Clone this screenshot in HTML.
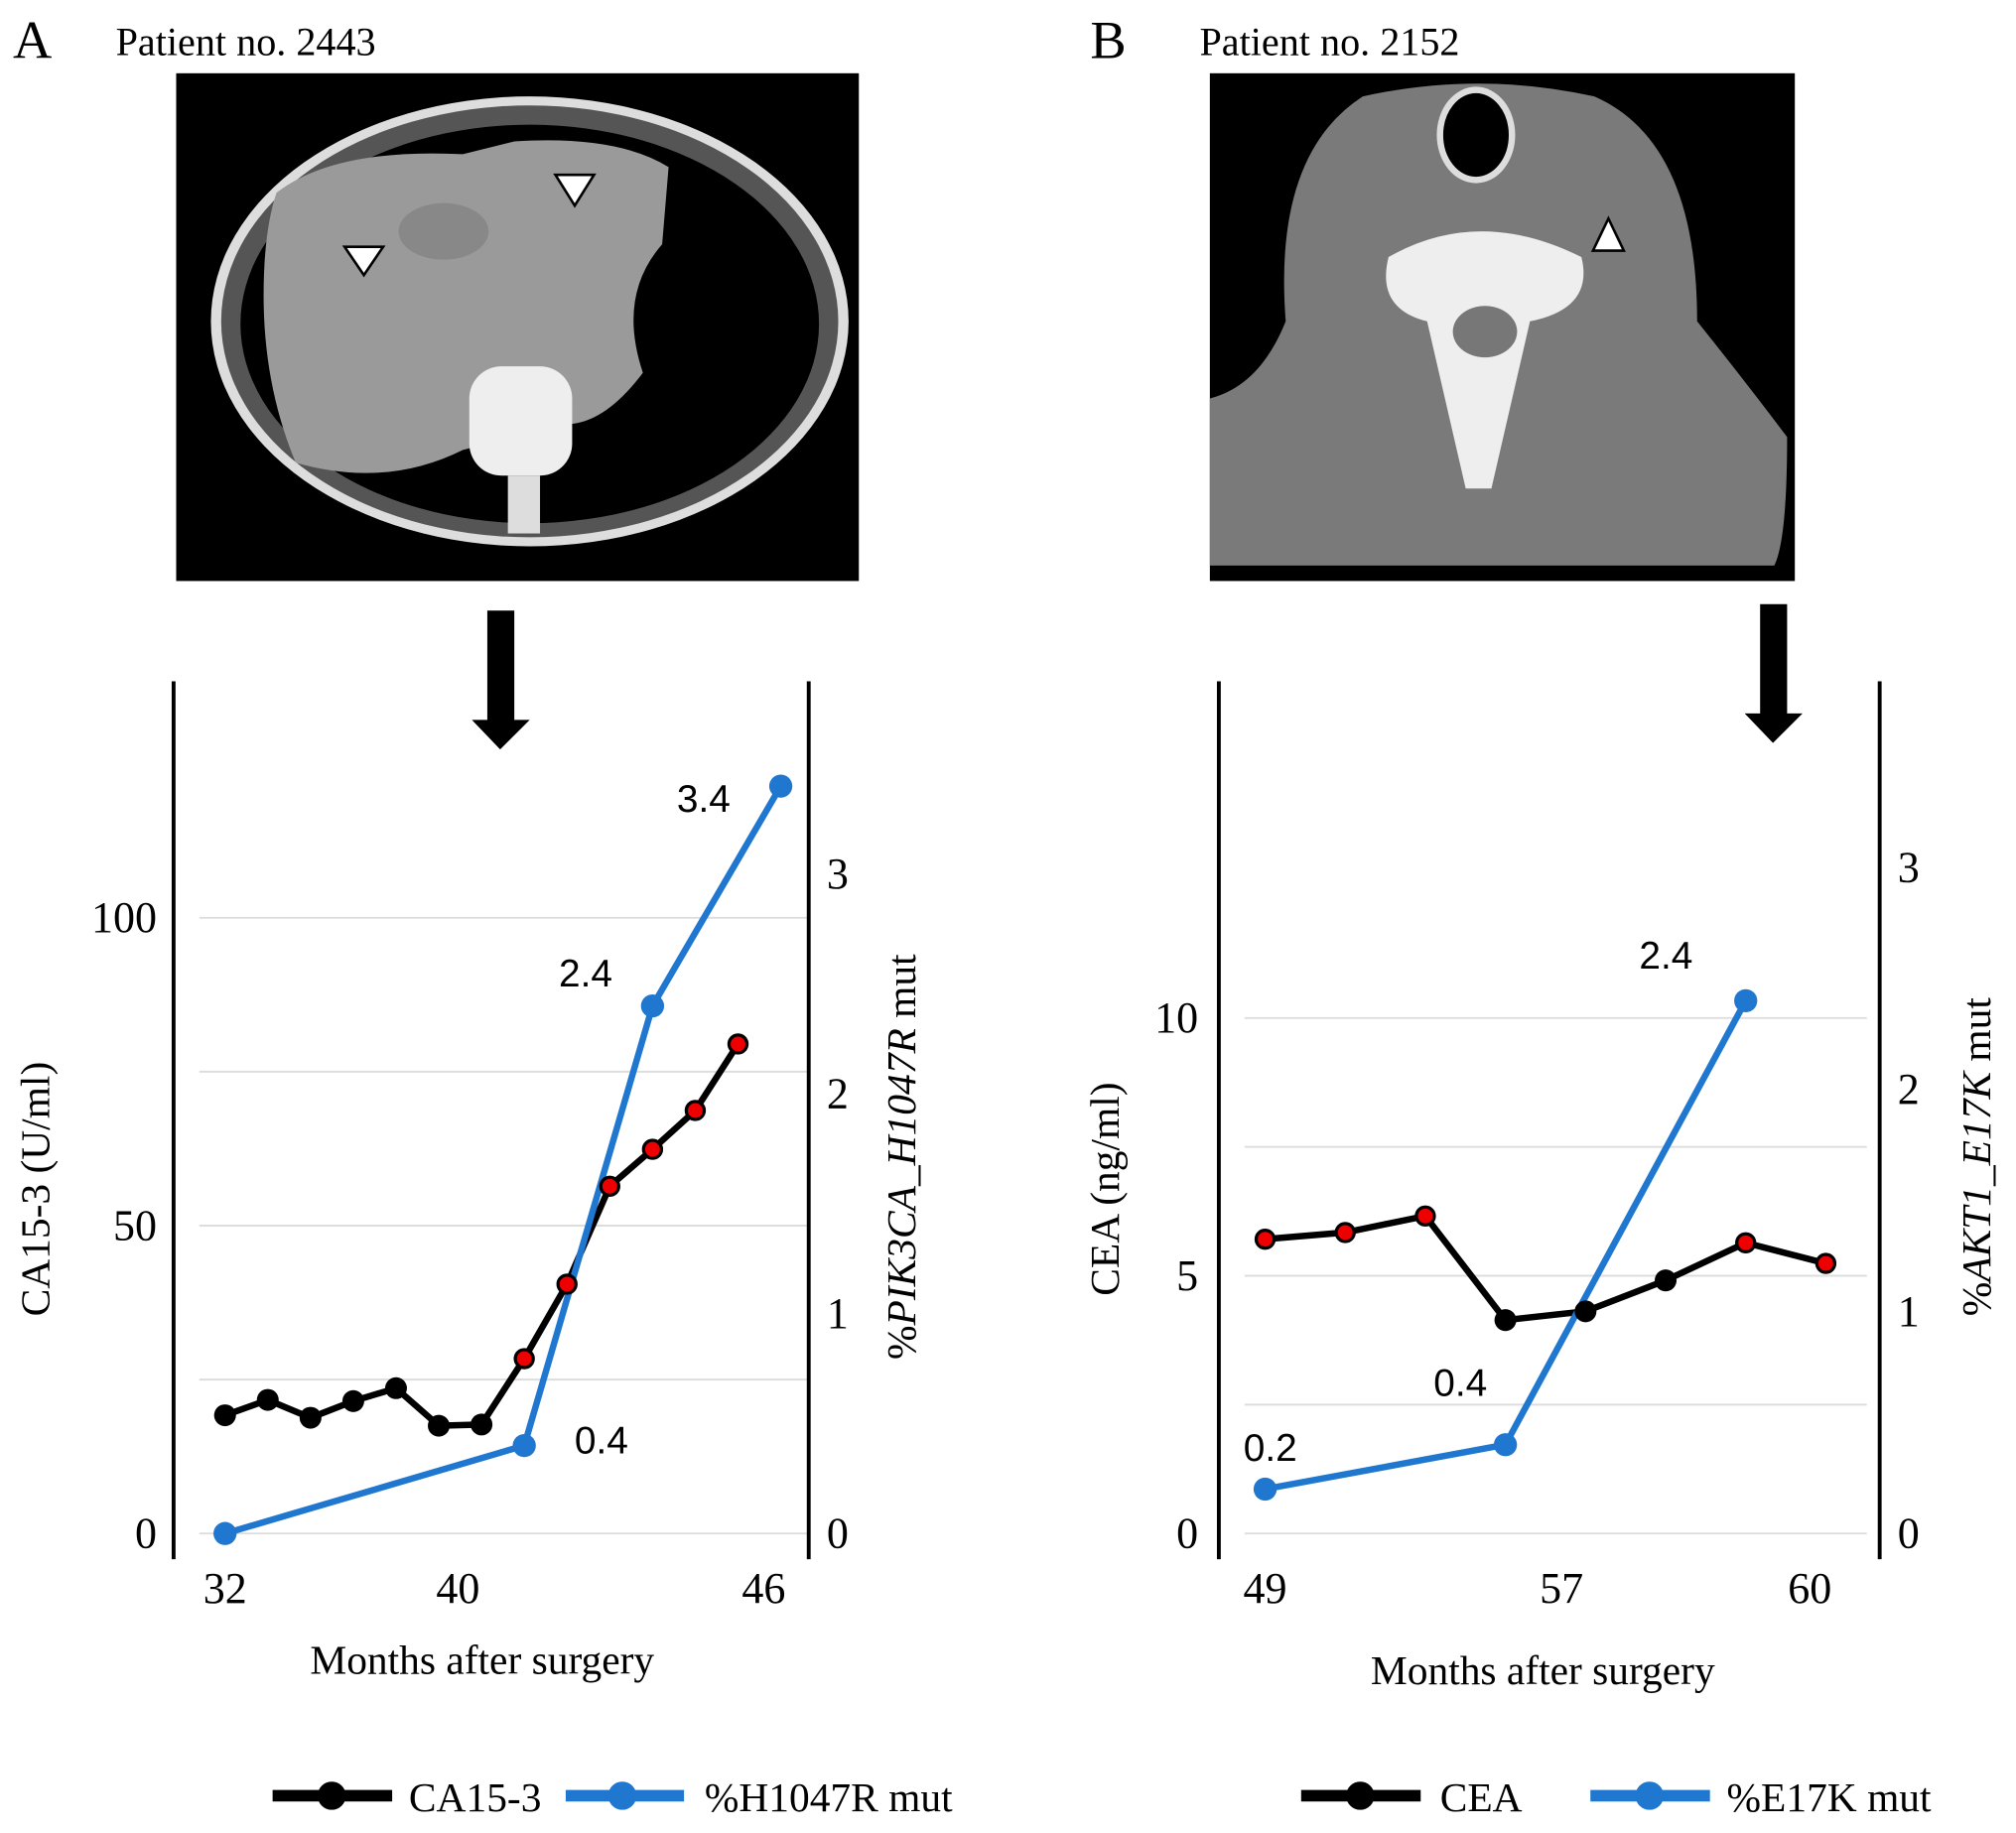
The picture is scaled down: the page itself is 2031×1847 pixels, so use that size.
<!DOCTYPE html>
<html><head><meta charset="utf-8"><style>
html,body{margin:0;padding:0;background:#fff;}
svg{display:block;}
.serif{font-family:"Liberation Serif",serif;}
.sans{font-family:"Liberation Sans",sans-serif;}
</style></head><body>
<svg id="fig" width="2031" height="1847" viewBox="0 0 1568 1426" xmlns="http://www.w3.org/2000/svg">
<rect width="1568" height="1426" fill="#fff"/>
<text class="serif" x="10" y="45" font-size="42">A</text>
<text class="serif" x="90" y="43" font-size="31">Patient no. 2443</text>
<text class="serif" x="848" y="45" font-size="42">B</text>
<text class="serif" x="933" y="43" font-size="31">Patient no. 2152</text>

<g>
<rect x="137" y="57" width="531" height="395" fill="#000"/>
<ellipse cx="412" cy="250" rx="248" ry="175" fill="#ddd"/>
<ellipse cx="412" cy="250" rx="240" ry="168" fill="#555"/>
<ellipse cx="412" cy="252" rx="225" ry="155" fill="#000"/>
<path d="M215,150 Q260,115 360,120 L400,110 Q480,105 520,130 L515,190 Q480,230 500,290 Q470,330 440,330 L360,350 Q300,380 230,360 Q205,300 205,230 Q205,180 215,150Z" fill="#9a9a9a"/>
<ellipse cx="345" cy="180" rx="35" ry="22" fill="#888"/>
<rect x="365" y="285" width="80" height="85" rx="25" fill="#eee"/>
<rect x="395" y="370" width="25" height="45" fill="#ddd"/>
<polygon points="268,192 298,192 283,214" fill="#fff" stroke="#000" stroke-width="2"/>
<polygon points="432,136 462,136 447,160" fill="#fff" stroke="#000" stroke-width="2"/>
</g>
<g>
<rect x="941" y="57" width="455" height="395" fill="#000"/>
<path d="M941,310 Q980,300 1000,250 Q990,120 1060,75 Q1150,55 1240,75 Q1320,110 1320,250 Q1360,300 1390,340 Q1390,420 1380,440 L941,440Z" fill="#7a7a7a"/>
<ellipse cx="1148" cy="105" rx="28" ry="35" fill="#000" stroke="#ddd" stroke-width="5"/>
<path d="M1080,200 Q1150,160 1230,200 Q1240,240 1190,250 L1160,380 L1140,380 L1110,250 Q1070,240 1080,200Z" fill="#eee"/>
<ellipse cx="1155" cy="258" rx="25" ry="20" fill="#777"/>
<polygon points="1239,195 1263,195 1251,170" fill="#fff" stroke="#000" stroke-width="2"/>
</g>

<g><rect x="379" y="475" width="21" height="87" fill="#000"/><polygon points="367,560 412,560 389,583" fill="#000"/></g>
<g><rect x="1369" y="470" width="21" height="87" fill="#000"/><polygon points="1357,555 1402,555 1379,578" fill="#000"/></g>

<g id="chartA"></g>
<g id="chartB"></g>

<g>
<line x1="212" y1="1397" x2="305" y2="1397" stroke="#000" stroke-width="9"/><circle cx="258" cy="1397" r="11" fill="#000"/>
<text class="serif" x="318" y="1409" font-size="32">CA15-3</text>
<line x1="440" y1="1397" x2="532" y2="1397" stroke="#1f77d0" stroke-width="9"/><circle cx="484" cy="1397" r="11" fill="#1f77d0"/>
<text class="serif" x="548" y="1409" font-size="32">%H1047R mut</text>
</g>
<g>
<line x1="1012" y1="1397" x2="1105" y2="1397" stroke="#000" stroke-width="9"/><circle cx="1058" cy="1397" r="11" fill="#000"/>
<text class="serif" x="1120" y="1409" font-size="32">CEA</text>
<line x1="1237" y1="1397" x2="1330" y2="1397" stroke="#1f77d0" stroke-width="9"/><circle cx="1283" cy="1397" r="11" fill="#1f77d0"/>
<text class="serif" x="1343" y="1409" font-size="32">%E17K mut</text>
</g>
</svg>
<script>
// Panel A data
const caValues = [19.2,21.7,18.8,21.5,23.6,17.5,17.7,28.4,40.5,56.4,62.4,68.7,79.5];
const caRed = [false,false,false,false,false,false,false,true,true,true,true,true,true];
const h1047rIdx = [0,7,10,13];
const h1047rValues = [0,0.4,2.4,3.4];
const h1047rLabels = ["","0.4","2.4","3.4"];
const aLeftTicks = [0,50,100];
const aRightTicks = [0,1,2,3];
const aGrid = [0,25,50,75,100];
const aXTickIdx = [0,5.45,12.6];
const aXTickLabels = ["32","40","46"];
// Panel B data
const ceaValues = [5.71,5.84,6.16,4.14,4.31,4.91,5.64,5.24];
const ceaRed = [true,true,true,false,false,false,true,true];
const e17kIdx = [0,3,6];
const e17kValues = [0.2,0.4,2.4];
const e17kLabels = ["0.2","0.4","2.4"];
const bLeftTicks = [0,5,10];
const bRightTicks = [0,1,2,3];
const bGrid = [0,2.5,5,7.5,10];
const bXTickIdx = [0,3.7,6.8];
const bXTickLabels = ["49","57","60"];

const NS="http://www.w3.org/2000/svg";
function mk(parent,tag,attrs,text){const e=document.createElementNS(NS,tag);for(const k in attrs)e.setAttribute(k,attrs[k]);if(text!==undefined)e.textContent=text;parent.appendChild(e);return e;}

function drawChart(g,cfg){
  const xs=i=>cfg.x0+cfg.dx*i;
  const yL=v=>cfg.y0-v*cfg.kL;
  const yR=v=>cfg.y0-v*cfg.kR;
  cfg.grid.forEach(v=>{const l=mk(g,'line',{x1:cfg.gx1,x2:cfg.gx2,y1:yL(v),y2:yL(v),stroke:'#ddd','stroke-width':1.5});
    
    });
  const la=mk(g,'line',{x1:cfg.ax1,x2:cfg.ax1,y1:530,y2:1213,stroke:'#000','stroke-width':3});
  
  
  const ra=mk(g,'line',{x1:cfg.ax2,x2:cfg.ax2,y1:530,y2:1213,stroke:'#000','stroke-width':3});
  
  
  cfg.leftTicks.forEach(v=>{const t=mk(g,'text',{x:cfg.lx,y:yL(v)+11,'font-size':34,'text-anchor':'end','class':'serif'},String(v));
    
    });
  cfg.rightTicks.forEach(v=>{const t=mk(g,'text',{x:cfg.rx,y:yR(v)+11,'font-size':34,'class':'serif'},String(v));
    
    });
  cfg.xIdx.forEach((v,i)=>{const t=mk(g,'text',{x:xs(v),y:1247,'font-size':34,'text-anchor':'middle','class':'serif'},cfg.xLabels[i]);
    
    });
  const xt=mk(g,'text',{x:cfg.xtx,y:cfg.xty,'font-size':32,'text-anchor':'middle','class':'serif'},'Months after surgery');
  
  
  const yt=mk(g,'text',{transform:`translate(${cfg.ytx},925) rotate(-90)`,'font-size':32,'text-anchor':'middle','class':'serif'},cfg.yTitle);
  
  
  const rt=mk(g,'text',{transform:`translate(${cfg.rtx},900) rotate(-90)`,'font-size':32,'text-anchor':'middle','class':'serif'});
  
  
  mk(rt,'tspan',{},'%');mk(rt,'tspan',{'font-style':'italic'},cfg.rTitleIt);mk(rt,'tspan',{},' mut');
  const bp=mk(g,'polyline',{points:cfg.black.map((v,i)=>xs(i)+','+yL(v)).join(' '),fill:'none',stroke:'#000','stroke-width':5});
  
  
  const blp=mk(g,'polyline',{points:cfg.blue.map((v,i)=>xs(cfg.blueIdx[i])+','+yR(v)).join(' '),fill:'none',stroke:'#1f77d0','stroke-width':5});
  
  
  cfg.black.forEach((v,i)=>{const c=mk(g,'circle',{cx:xs(i),cy:yL(v),r:cfg.red[i]?7:8.5,fill:cfg.red[i]?'#e00':'#000',stroke:'#000','stroke-width':cfg.red[i]?2.5:0});
    
    });
  cfg.blue.forEach((v,i)=>{const c=mk(g,'circle',{cx:xs(cfg.blueIdx[i]),cy:yR(v),r:9,fill:'#1f77d0'});
    
    
    if(cfg.blueLabels[i]){const t=mk(g,'text',{x:xs(cfg.blueIdx[i])+cfg.lblOff[i][0],y:yR(v)+cfg.lblOff[i][1],'font-size':30,'text-anchor':'middle','class':'sans'},cfg.blueLabels[i]);
      
      }});
}
const gA=document.getElementById('chartA');


drawChart(gA,{x0:175,dx:33.25,y0:1193,kL:4.79,kR:171,gx1:155,gx2:629,ax1:135,ax2:629,lx:122,rx:643,xtx:375,xty:1302,ytx:38,rtx:712,
  yTitle:'CA15-3 (U/ml)',rTitleIt:'PIK3CA_H1047R',black:caValues,red:caRed,blue:h1047rValues,blueIdx:h1047rIdx,blueLabels:h1047rLabels,
  grid:aGrid,leftTicks:aLeftTicks,rightTicks:aRightTicks,xIdx:aXTickIdx,xLabels:aXTickLabels,lblOff:[[0,0],[60,6],[-52,-15],[-60,20]]});
const gB=document.getElementById('chartB');


drawChart(gB,{x0:984,dx:62.3,y0:1193,kL:40.1,kR:172.7,gx1:968,gx2:1452,ax1:948,ax2:1462,lx:932,rx:1476,xtx:1200,xty:1310,ytx:870,rtx:1548,
  yTitle:'CEA (ng/ml)',rTitleIt:'AKT1_E17K',black:ceaValues,red:ceaRed,blue:e17kValues,blueIdx:e17kIdx,blueLabels:e17kLabels,
  grid:bGrid,leftTicks:bLeftTicks,rightTicks:bRightTicks,xIdx:bXTickIdx,xLabels:bXTickLabels,lblOff:[[4,-22],[-35,-38],[-62,-25]]});
</script>
</body></html>
